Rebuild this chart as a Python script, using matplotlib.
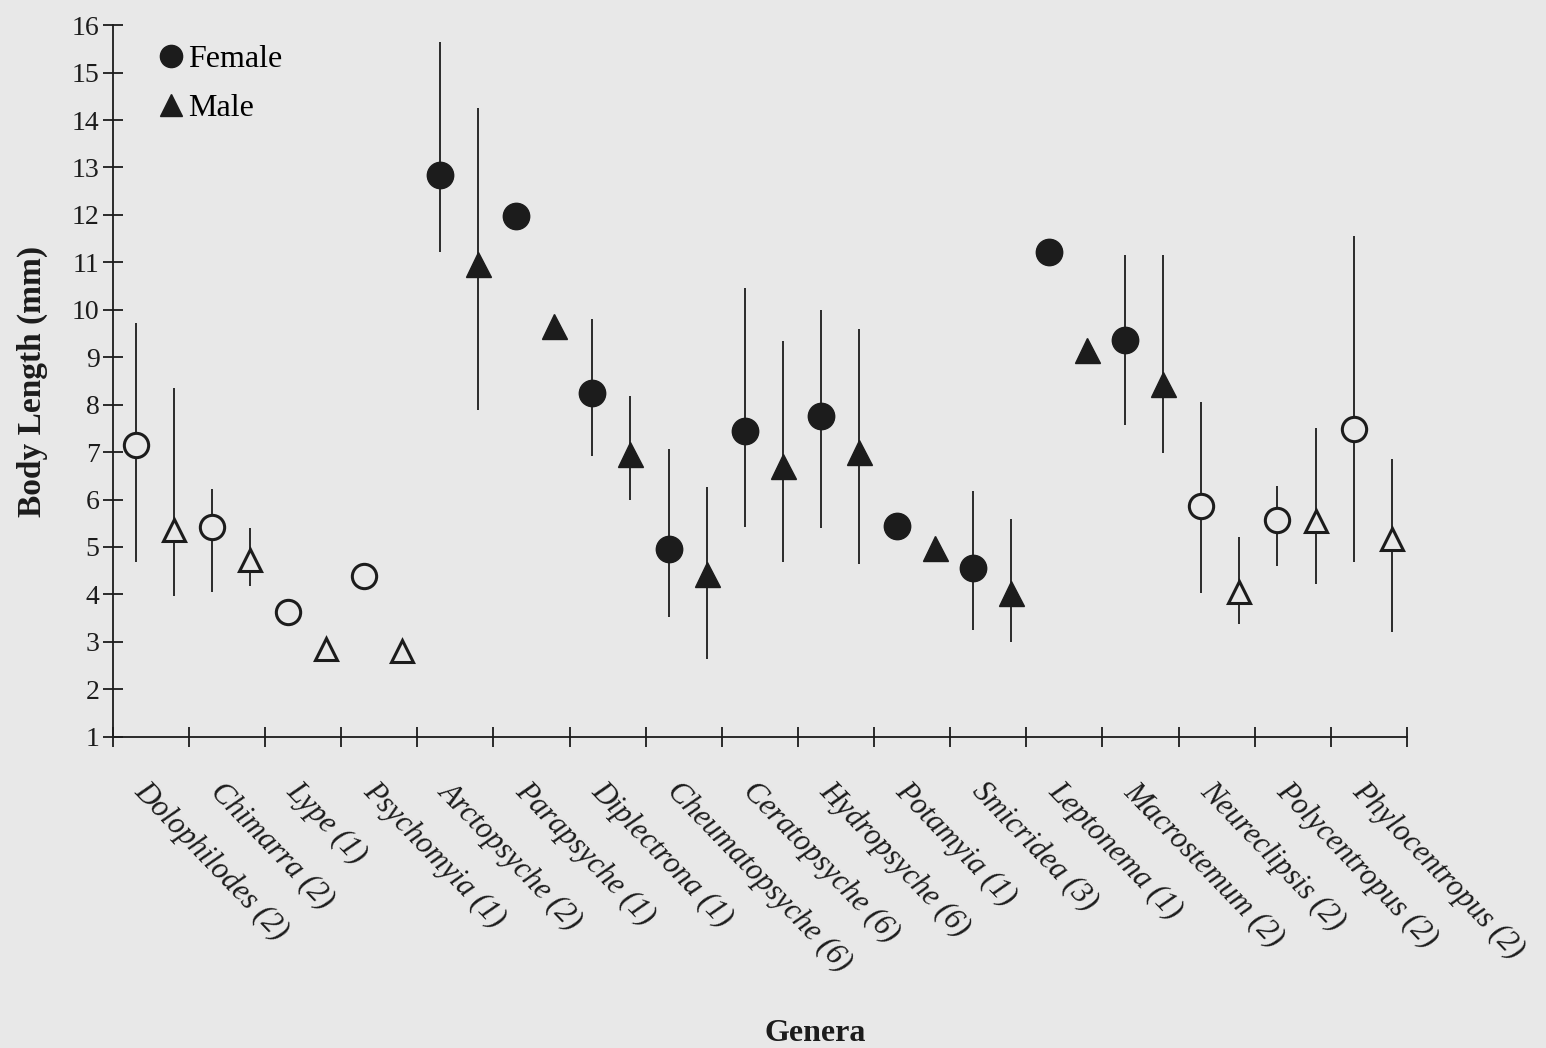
import matplotlib.pyplot as plt
import numpy as np
from matplotlib.lines import Line2D

genera = ['Dolophilodes (2)', 'Chimarra (2)', 'Lype (1)', 'Psychomyia (1)',
          'Arctopsyche (2)', 'Parapsyche (1)', 'Diplectrona (1)',
          'Cheumatopsyche (6)', 'Ceratopsyche (6)', 'Hydropsyche (6)',
          'Potamyia (1)', 'Smicridea (3)', 'Leptonema (1)', 'Macrostemum (2)',
          'Neureclipsis (2)', 'Polycentropus (2)', 'Phylocentropus (2)']
# open symbols for these genera, filled for the rest
filled = [False, False, False, False, True, True, True, True, True, True,
          True, True, True, True, False, False, False]

female = [7.16, 5.43, 3.64, 4.38, 12.84, 11.98, 8.25, 4.95, 7.45, 7.77,
          5.45, 4.55, 11.22, 9.37, 5.87, 5.56, 7.49]
female_lo = [4.69, 4.06, np.nan, np.nan, 11.22, np.nan, 6.91, 3.52, 5.43, 5.41,
             np.nan, 3.24, np.nan, 7.58, 4.04, 4.60, 4.69]
female_hi = [9.73, 6.23, np.nan, np.nan, 15.64, np.nan, 9.81, 7.07, 10.46, 10.00,
             np.nan, 6.19, np.nan, 11.16, 8.06, 6.29, 11.56]

male = [5.35, 4.72, 2.86, 2.80, 10.97, 9.65, 6.95, 4.44, 6.70, 7.01,
        4.97, 4.02, 9.16, 8.44, 4.06, 5.54, 5.16]
male_lo = [3.96, 4.17, np.nan, np.nan, 7.89, np.nan, 6.00, 2.63, 4.69, 4.65,
           np.nan, 2.99, np.nan, 6.98, 3.37, 4.21, 3.20]
male_hi = [8.36, 5.39, np.nan, np.nan, 14.25, np.nan, 8.19, 6.27, 9.35, 9.60,
           np.nan, 5.58, np.nan, 11.16, 5.22, 7.51, 6.86]

bg = '#e8e8e8'
ink = '#1c1c1c'
serif = ['Liberation Serif', 'DejaVu Serif']
plt.rcParams['font.family'] = serif

fig = plt.figure(figsize=(15.46, 10.48), dpi=100, facecolor=bg)
ax = fig.add_axes([0.073, 0.297, 0.837, 0.679], facecolor=bg)

idx = np.arange(len(genera))
xf = idx + 0.30
xm = idx + 0.80


def draw(ax, xs, vals, lo, hi, marker, ms):
    vals = np.array(vals)
    lo = np.array(lo)
    hi = np.array(hi)
    ok = ~np.isnan(lo)
    ax.vlines(xs[ok], lo[ok], hi[ok], color='#2a2a2a', lw=1.4, zorder=2)
    for x, v, f in zip(xs, vals, filled):
        if f:
            ax.plot(x, v, marker=marker, ms=ms, mfc=ink, mec=ink, mew=1.0,
                    ls='none', zorder=3)
        else:
            ax.plot(x, v, marker=marker, ms=ms - 1.5, mfc=bg, mec=ink, mew=2.2,
                    ls='none', zorder=3)


draw(ax, xf, female, female_lo, female_hi, 'o', 19)
draw(ax, xm, male, male_lo, male_hi, '^', 18)

ax.set_xlim(0, len(genera))
ax.set_ylim(1, 16)
ax.set_yticks(range(1, 17))
ax.set_xticks(range(len(genera) + 1))
ax.set_xticklabels([])
ax.tick_params(axis='both', direction='inout', length=15, width=1.3,
               color=ink, labelsize=20, labelcolor=ink)
ax.tick_params(axis='y', pad=2)
for s in ['top', 'right']:
    ax.spines[s].set_visible(False)
for s in ['left', 'bottom']:
    ax.spines[s].set_color(ink)
    ax.spines[s].set_linewidth(1.3)

for i, g in enumerate(genera):
    ax.text(i + 0.48, -0.056, g, transform=ax.get_xaxis_transform(),
            rotation=-46, rotation_mode='anchor', ha='left', va='top',
            fontsize=22, style='italic', color=ink)

ax.set_ylabel('Body Length (mm)', fontsize=24, fontweight='bold', color=ink)
ax.yaxis.set_label_coords(-0.05, 0.50)
ax.set_xlabel('Genera', fontsize=23, fontweight='bold', color=ink)
ax.xaxis.set_label_coords(0.5425, -0.397)

handles = [Line2D([], [], marker='o', ls='none', ms=16, mfc=ink, mec=ink),
           Line2D([], [], marker='^', ls='none', ms=16, mfc=ink, mec=ink)]
ax.legend(handles, ['Female', 'Male'], loc='upper left',
          bbox_to_anchor=(0.025, 0.99), frameon=False, fontsize=23,
          handlelength=0.8, handletextpad=0.15, labelspacing=0.6,
          borderaxespad=0)

fig.savefig('out.png', dpi=100, facecolor=bg)
